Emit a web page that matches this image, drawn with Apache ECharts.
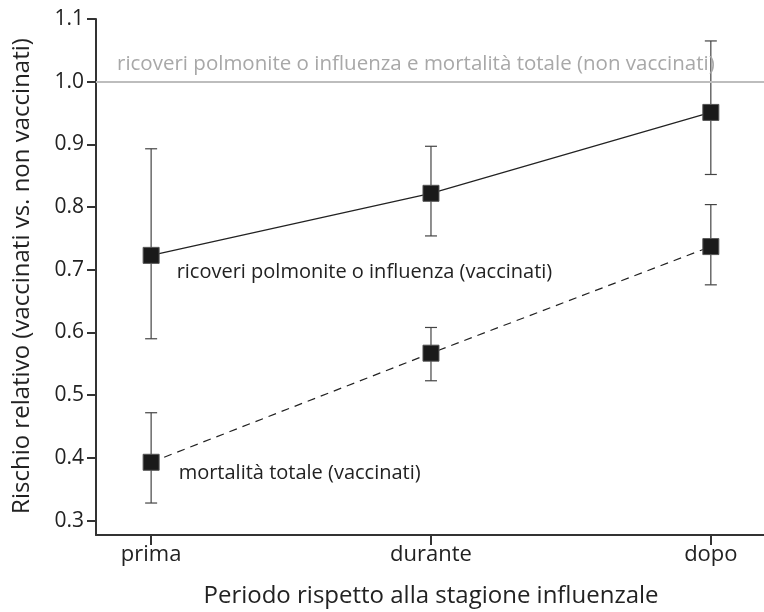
<!DOCTYPE html>
<html>
<head>
<meta charset="utf-8">
<script src="https://cdn.jsdelivr.net/npm/echarts@6/dist/echarts.min.js"></script>
<style>
  html, body { margin: 0; padding: 0; background: #fff; }
  #chart { width: 764px; height: 612px; }
</style>
</head>
<body>
<div id="chart"></div>
<script>
// categories and values
var periods = ['prima', 'durante', 'dopo'];
var yTicks = [0.3, 0.4, 0.5, 0.6, 0.7, 0.8, 0.9, 1.0, 1.1];

var ricoveri = [0.723, 0.822, 0.951];
var ricoveriLow = [0.590, 0.754, 0.852];
var ricoveriHigh = [0.893, 0.897, 1.065];

var mortalita = [0.393, 0.567, 0.737];
var mortalitaLow = [0.328, 0.523, 0.676];
var mortalitaHigh = [0.472, 0.608, 0.804];

var refValue = 1.0;

var FONT = 'Open Sans';

function pts(vals) {
    return vals.map(function(v, i) { return [i, v]; });
}
function bars(vals, lo, hi) {
    return vals.map(function(v, i) { return [i, v, lo[i], hi[i]]; });
}

function renderErr(params, api) {
    var x = api.value(0);
    var lo = api.coord([x, api.value(2)]);
    var hi = api.coord([x, api.value(3)]);
    var cap = 6;
    var st = { stroke: '#444', lineWidth: 1.2 };
    return {
        type: 'group',
        children: [
            { type: 'line', shape: { x1: lo[0], y1: lo[1], x2: hi[0], y2: hi[1] }, style: st },
            { type: 'line', shape: { x1: lo[0] - cap, y1: lo[1], x2: lo[0] + cap, y2: lo[1] }, style: st },
            { type: 'line', shape: { x1: hi[0] - cap, y1: hi[1], x2: hi[0] + cap, y2: hi[1] }, style: st }
        ]
    };
}

var chart = echarts.init(document.getElementById('chart'));

var option = {
    animation: false,
    textStyle: { fontFamily: FONT },
    grid: { left: 96, right: 0, top: 19, bottom: 77 },
    xAxis: {
        type: 'value',
        min: -0.197,
        max: 2.19,
        axisLine: { show: true, onZero: false, lineStyle: { color: '#333', width: 2 } },
        axisTick: { show: true, length: 10, customValues: [0, 1, 2], lineStyle: { color: '#333', width: 2 } },
        axisLabel: {
            customValues: [0, 1, 2],
            formatter: function(v) { return periods[Math.round(v)]; },
            color: '#222', fontSize: 22, fontFamily: FONT, margin: 9
        },
        splitLine: { show: false }
    },
    yAxis: {
        type: 'value',
        min: 0.277,
        max: 1.1,
        axisLine: { show: true, onZero: false, lineStyle: { color: '#333', width: 2 } },
        axisTick: { show: true, length: 9, customValues: yTicks, lineStyle: { color: '#333', width: 2 } },
        axisLabel: {
            customValues: yTicks,
            formatter: function(v) { return v.toFixed(1); },
            color: '#222', fontSize: 21, fontFamily: FONT, margin: 12
        },
        splitLine: { show: false }
    },
    graphic: [
        {
            type: 'text', x: 431, y: 596,
            style: { text: 'Periodo rispetto alla stagione influenzale', fill: '#222', font: '24px "Open Sans"', textAlign: 'center', textVerticalAlign: 'middle' }
        },
        {
            type: 'text', x: 22, y: 276, rotation: Math.PI / 2,
            style: { text: 'Rischio relativo (vaccinati vs. non vaccinati)', fill: '#222', font: '24px "Open Sans"', textAlign: 'center', textVerticalAlign: 'middle' }
        }
    ],
    series: [
        {
            type: 'line',
            data: pts(ricoveri),
            symbol: 'rect', symbolSize: 16,
            itemStyle: { color: '#1a1a1a', borderColor: '#555', borderWidth: 1 },
            lineStyle: { color: '#222', width: 1.2 },
            z: 3,
            markLine: {
                silent: true, symbol: 'none',
                data: [{ yAxis: refValue }],
                lineStyle: { color: '#bdbdbd', width: 2, type: 'solid' },
                label: {
                    show: true, position: 'insideStartTop', distance: [21, 7],
                    formatter: 'ricoveri polmonite o influenza e mortalità totale (non vaccinati)',
                    color: '#a8a8a8', fontSize: 20.5, fontFamily: FONT
                }
            }
        },
        {
            type: 'line',
            data: pts(mortalita),
            symbol: 'rect', symbolSize: 16,
            itemStyle: { color: '#1a1a1a', borderColor: '#555', borderWidth: 1 },
            lineStyle: { color: '#222', width: 1.2, type: [8, 6] },
            z: 3
        },
        {
            type: 'custom', renderItem: renderErr, data: bars(ricoveri, ricoveriLow, ricoveriHigh), z: 2
        },
        {
            type: 'custom', renderItem: renderErr, data: bars(mortalita, mortalitaLow, mortalitaHigh), z: 2
        }
    ]
};

// series labels next to the first point
option.series[0].data[0] = {
    value: option.series[0].data[0],
    label: { show: true, position: 'right', offset: [12, 17], formatter: 'ricoveri polmonite o influenza (vaccinati)', color: '#222', fontSize: 20, fontFamily: FONT }
};
option.series[1].data[0] = {
    value: option.series[1].data[0],
    label: { show: true, position: 'right', offset: [14, 11], formatter: 'mortalità totale (vaccinati)', color: '#222', fontSize: 20, fontFamily: FONT }
};

chart.setOption(option);
</script>
</body>
</html>
